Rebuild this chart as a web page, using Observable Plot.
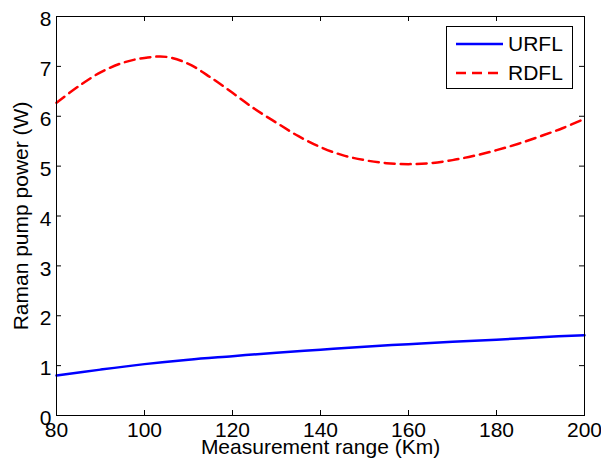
<!DOCTYPE html>
<html>
<head>
<meta charset="utf-8">
<script src="https://cdn.jsdelivr.net/npm/d3@7"></script>
<script src="https://cdn.jsdelivr.net/npm/@observablehq/plot@0.6"></script>
<style>
  html, body { margin: 0; padding: 0; background: #fff; }
  #wrap { position: relative; width: 601px; height: 465px; font-family: "Liberation Sans", Arial, sans-serif; }
  #legend { position: absolute; left: 446px; top: 26px; width: 125px; height: 61px; border: 1px solid #000; background: #fff; }
  .row { position: absolute; left: 0; height: 24px; display: flex; align-items: center; }
  .row span { font-size: 21px; color: #000; margin-left: 5px; }
</style>
</head>
<body>
<div id="wrap"></div>
<script>
const distances = [80, 85, 90, 95, 100, 105, 110, 115, 120, 125, 130, 135, 140, 145, 150, 155, 160, 165, 170, 175, 180, 185, 190, 195, 200];
const rdflPower = [6.27, 6.60, 6.88, 7.07, 7.17, 7.19, 7.05, 6.78, 6.47, 6.15, 5.87, 5.60, 5.38, 5.22, 5.12, 5.06, 5.04, 5.06, 5.12, 5.21, 5.32, 5.45, 5.60, 5.76, 5.95];
const urflDistances = [80, 90, 100, 110, 120, 130, 140, 150, 160, 170, 180, 190, 200];
const urflPower = [0.80, 0.92, 1.03, 1.12, 1.19, 1.26, 1.32, 1.38, 1.43, 1.48, 1.52, 1.57, 1.61];
const xTicks = [80, 100, 120, 140, 160, 180, 200];
const yTicks = [0, 1, 2, 3, 4, 5, 6, 7, 8];
const seriesNames = ["URFL", "RDFL"];
const xLabel = "Measurement range (Km)";
const yLabel = "Raman pump power (W)";

const urfl = urflDistances.map((d, i) => ({x: d, y: urflPower[i]}));
const rdfl = distances.map((d, i) => ({x: d, y: rdflPower[i]}));

const W = 601, H = 465, mt = 16, mb = 50, ml = 56, mr = 17;
const innerH = H - mt - mb, innerW = W - ml - mr;
const fs = 21;

const chart = Plot.plot({
  width: W, height: H,
  marginTop: mt, marginBottom: mb, marginLeft: ml, marginRight: mr,
  style: {fontFamily: '"Liberation Sans", Arial, sans-serif', fontSize: fs + "px", color: "#000", background: "#fff"},
  x: {domain: [80, 200]},
  y: {domain: [0, 8]},
  marks: [
    Plot.line(urfl, {x: "x", y: "y", stroke: "#0000ff", strokeWidth: 2.5, curve: "catmull-rom"}),
    Plot.line(rdfl, {x: "x", y: "y", stroke: "#ff0000", strokeWidth: 2.5, strokeDasharray: "10,6", curve: "catmull-rom"}),
    Plot.tickX(xTicks, {x: d => d, stroke: "#000", insetTop: innerH - 5}),
    Plot.tickX(xTicks, {x: d => d, stroke: "#000", insetBottom: innerH - 5}),
    Plot.tickY(yTicks, {y: d => d, stroke: "#000", insetRight: innerW - 5}),
    Plot.tickY(yTicks, {y: d => d, stroke: "#000", insetLeft: innerW - 5}),
    Plot.frame({stroke: "#000", strokeWidth: 1}),
    Plot.axisX(xTicks, {tickSize: 0, tickPadding: 7, label: null, fontSize: fs, tickFormat: d3.format("d")}),
    Plot.axisY(yTicks, {tickSize: 0, tickPadding: 5, label: null, fontSize: fs, dy: 3, tickFormat: d3.format("d")}),
    Plot.text([xLabel], {frameAnchor: "bottom", lineAnchor: "middle", textAnchor: "middle", dy: 32, fontSize: fs, fill: "#000"}),
    Plot.text([yLabel], {frameAnchor: "left", lineAnchor: "middle", textAnchor: "middle", rotate: -90, dx: -35, fontSize: fs, fill: "#000"})
  ]
});

const wrap = document.getElementById("wrap");
wrap.appendChild(chart);

const legend = document.createElement("div");
legend.id = "legend";
const styles = [
  {stroke: "#0000ff", dash: null},
  {stroke: "#ff0000", dash: "10,6"}
];
seriesNames.forEach((name, i) => {
  const row = document.createElement("div");
  row.className = "row";
  row.style.top = (5 + i * 29) + "px";
  row.style.left = "9px";
  const ns = "http://www.w3.org/2000/svg";
  const svg = document.createElementNS(ns, "svg");
  svg.setAttribute("width", 47);
  svg.setAttribute("height", 24);
  const ln = document.createElementNS(ns, "line");
  ln.setAttribute("x1", 0); ln.setAttribute("x2", 47);
  ln.setAttribute("y1", 12); ln.setAttribute("y2", 12);
  ln.setAttribute("stroke", styles[i].stroke);
  ln.setAttribute("stroke-width", 2.5);
  if (styles[i].dash) ln.setAttribute("stroke-dasharray", styles[i].dash);
  svg.appendChild(ln);
  const sp = document.createElement("span");
  sp.textContent = name;
  row.appendChild(svg);
  row.appendChild(sp);
  legend.appendChild(row);
});
wrap.appendChild(legend);
</script>
</body>
</html>
